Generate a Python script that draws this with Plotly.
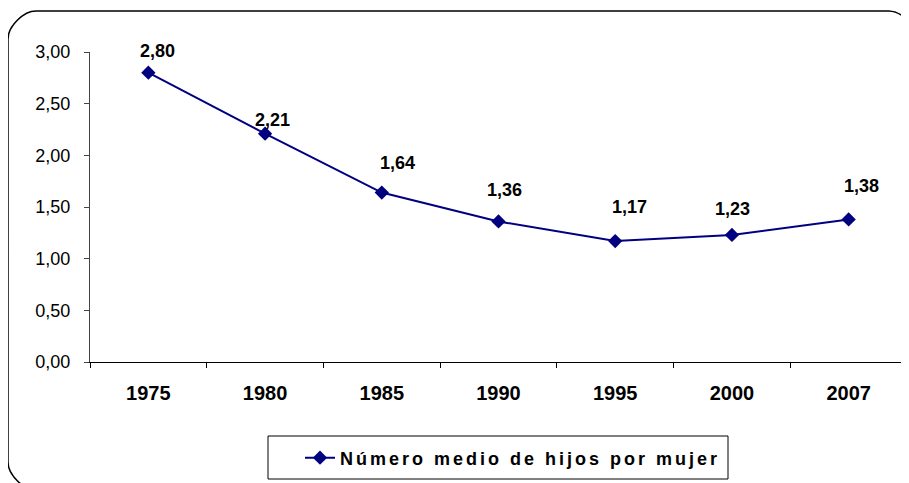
import plotly.graph_objects as go

# ---- data ----
years = ["1975", "1980", "1985", "1990", "1995", "2000", "2007"]
hijos = [2.80, 2.21, 1.64, 1.36, 1.17, 1.23, 1.38]
series_name = "Número medio de hijos por mujer"
y_ticks = [0, 0.5, 1.0, 1.5, 2.0, 2.5, 3.0]

# ---- style ----
# the page body has an 8px margin, so the figure is drawn 8px smaller and
# every reference pixel position is shifted by OFF
OFF = 8
W, H = 909 - OFF, 483 - OFF
ML, MR, MT, MB = 90 - OFF, 2, 52 - OFF, 121
FONT = "Liberation Sans, Arial, sans-serif"
NAVY = "#000080"
label_dx = [9, 7, 16, 6, 14, 1, 13]
label_dy = [22, 14, 30, 31, 34, 26, 33]

pw = W - ML - MR
ph = H - MT - MB


def px(x):
    return (x - OFF - ML) / pw


def py(y):
    return (H - MB - (y - OFF)) / ph


pos = list(range(len(years)))
bounds = [i - 0.5 for i in range(len(years) + 1)]

fig = go.Figure()
fig.add_trace(go.Scatter(
    x=pos, y=hijos, mode="lines+markers",
    name='<span style="letter-spacing:3px">' + series_name + "</span>",
    line=dict(color=NAVY, width=2),
    marker=dict(symbol="diamond", size=11, color=NAVY),
))

for i, v in enumerate(hijos):
    fig.add_annotation(
        x=pos[i], y=v, text="<b>" + f"{v:.2f}".replace(".", ",") + "</b>",
        showarrow=False, xshift=label_dx[i], yshift=label_dy[i],
        font=dict(family=FONT, size=18, color="black"),
    )

# rounded frame (reference pixel coordinates)
L, T, R, B, r = 8, 11, 917, 490, 28
k = 0.45 * r
path = (
    f"M {px(L+r)},{py(T)} L {px(R-r)},{py(T)} "
    f"C {px(R-r+k)},{py(T)} {px(R)},{py(T+r-k)} {px(R)},{py(T+r)} "
    f"L {px(R)},{py(B-r)} "
    f"C {px(R)},{py(B-r+k)} {px(R-r+k)},{py(B)} {px(R-r)},{py(B)} "
    f"L {px(L+r)},{py(B)} "
    f"C {px(L+r-k)},{py(B)} {px(L)},{py(B-r+k)} {px(L)},{py(B-r)} "
    f"L {px(L)},{py(T+r)} "
    f"C {px(L)},{py(T+r-k)} {px(L+r-k)},{py(T)} {px(L+r)},{py(T)} Z"
)
fig.add_shape(type="path", path=path, xref="paper", yref="paper",
              line=dict(color="black", width=1.5), layer="below")
# legend box
fig.add_shape(type="rect", xref="paper", yref="paper",
              x0=px(268), x1=px(728), y0=py(479), y1=py(436),
              line=dict(color="black", width=1), fillcolor="white",
              layer="below")

fig.update_layout(
    width=W, height=H,
    margin=dict(l=ML, r=MR, t=MT, b=MB),
    paper_bgcolor="white", plot_bgcolor="white",
    separators=",.",
    font=dict(family=FONT, size=16, color="black"),
    showlegend=True,
    legend=dict(
        orientation="h", x=px(300), xanchor="left", y=py(458),
        yanchor="middle", borderwidth=0, bgcolor="rgba(0,0,0,0)",
        font=dict(family=FONT, size=18, color="black", weight="bold"),
        itemwidth=30,
    ),
    xaxis=dict(
        range=[bounds[0], bounds[-1]], tickvals=pos, ticktext=years,
        showgrid=False, showline=True, linecolor="black", linewidth=1,
        ticks="", tickfont=dict(family=FONT, size=20, weight="bold"),
        ticklabelstandoff=13, zeroline=False,
        minor=dict(tickvals=bounds, ticks="outside", ticklen=5,
                   tickcolor="black", showgrid=False),
    ),
    yaxis=dict(
        range=[0, 3], tickvals=y_ticks, tickformat=".2f", showgrid=False,
        showline=True, linecolor="#444444", linewidth=1, ticks="outside",
        ticklen=5, tickcolor="#444444", zeroline=False,
        tickfont=dict(family=FONT, size=18), ticklabelstandoff=10,
    ),
)

fig.write_html("out.html")
